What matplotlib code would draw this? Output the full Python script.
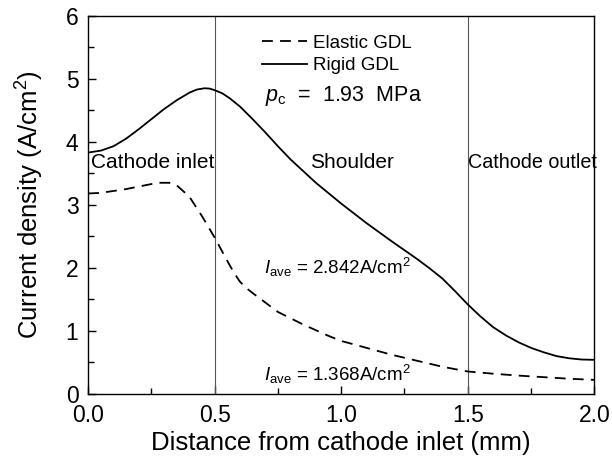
import matplotlib
matplotlib.use("Agg")
import matplotlib.pyplot as plt
import numpy as np

plt.rcParams['font.family'] = ['Liberation Sans', 'DejaVu Sans']
plt.rcParams['mathtext.fontset'] = 'custom'
plt.rcParams['mathtext.rm'] = 'Liberation Sans'
plt.rcParams['mathtext.it'] = 'Liberation Sans:italic'

# Data
x_rigid = [0.0, 0.05, 0.1, 0.15, 0.2, 0.25, 0.3, 0.35, 0.4, 0.43, 0.46, 0.48, 0.5, 0.53,
           0.56, 0.6, 0.65, 0.7, 0.75, 0.8, 0.9, 1.0, 1.1, 1.2, 1.25, 1.3, 1.35, 1.4, 1.45, 1.5,
           1.55, 1.6, 1.65, 1.7, 1.75, 1.8, 1.85, 1.9, 1.95, 2.0]
rigid = [3.83, 3.86, 3.93, 4.05, 4.2, 4.36, 4.52, 4.66, 4.78, 4.83, 4.85, 4.845, 4.82, 4.77,
         4.69, 4.56, 4.36, 4.15, 3.93, 3.72, 3.35, 3.02, 2.71, 2.42, 2.28, 2.14, 1.99, 1.83, 1.63,
         1.42, 1.23, 1.06, 0.93, 0.82, 0.73, 0.66, 0.6, 0.565, 0.545, 0.54]

x_elastic = [0.0, 0.05, 0.1, 0.15, 0.2, 0.25, 0.28, 0.32, 0.35, 0.4, 0.45, 0.5, 0.55, 0.575,
             0.6, 0.625, 0.65, 0.7, 0.75, 0.8, 0.85, 0.9, 0.95, 1.0, 1.1, 1.2, 1.3, 1.4,
             1.5, 1.6, 1.7, 1.8, 1.9, 2.0]
elastic = [3.18, 3.19, 3.22, 3.25, 3.29, 3.33, 3.35, 3.35, 3.31, 3.13, 2.82, 2.48, 2.11, 1.93,
           1.78, 1.68, 1.60, 1.45, 1.30, 1.20, 1.10, 1.01, 0.92, 0.84, 0.73, 0.62, 0.525, 0.43,
           0.355, 0.32, 0.29, 0.265, 0.24, 0.222]

boundaries = [0.5, 1.5]
regions = ['Cathode inlet', 'Shoulder', 'Cathode outlet']

fig = plt.figure(figsize=(6.12, 4.65), dpi=100)
ax = fig.add_axes([0.144, 0.153, 0.827, 0.813])

for b in boundaries:
    ax.axvline(b, color='#555555', lw=0.8)

ax.plot(x_elastic, elastic, color='black', lw=1.3, linestyle=(0, (6, 4)), label='Elastic GDL')
ax.plot(x_rigid, rigid, color='black', lw=1.3, label='Rigid GDL')

ax.set_xlim(0, 2.0)
ax.set_ylim(0, 6)
ax.set_xticks([0.0, 0.5, 1.0, 1.5, 2.0])
ax.set_xticks([0.25, 0.75, 1.25, 1.75], minor=True)
ax.set_yticks(range(0, 7))
ax.set_yticks(np.arange(0.5, 6, 1.0), minor=True)
ax.xaxis.set_major_formatter(matplotlib.ticker.FormatStrFormatter('%.1f'))
ax.tick_params(which='both', direction='in', top=False, right=False, labelsize=16.5, width=1.0)
ax.tick_params(which='major', length=6)
ax.tick_params(axis='x', which='major', pad=7)
ax.tick_params(axis='y', which='major', pad=7)
ax.tick_params(which='minor', length=4)
for s in ax.spines.values():
    s.set_linewidth(1.0)

ax.set_xlabel('Distance from cathode inlet (mm)', fontsize=18.5, labelpad=3)
ax.set_ylabel('Current density (A/cm$^2$)', fontsize=18.5, labelpad=14)

ax.legend(loc='upper left', bbox_to_anchor=(0.31, 0.995), frameon=False, fontsize=13.5,
          handlelength=2.4, handletextpad=0.35, labelspacing=0.3)

ax.text(0.70, 4.72, '$p_{\\mathrm{c}}$  =  1.93  MPa', fontsize=15.5, va='center')
ax.text(0.01, 3.67, regions[0], fontsize=15, va='center')
ax.text(0.875, 3.67, regions[1], fontsize=15, va='center')
ax.text(1.5, 3.67, regions[2], fontsize=14.2, va='center')
ax.text(0.695, 2.0, '$I_{\\mathrm{ave}}$ = 2.842A/cm$^2$', fontsize=13.5, va='center')
ax.text(0.695, 0.31, '$I_{\\mathrm{ave}}$ = 1.368A/cm$^2$', fontsize=13.5, va='center')

fig.savefig('out.png', dpi=100)
